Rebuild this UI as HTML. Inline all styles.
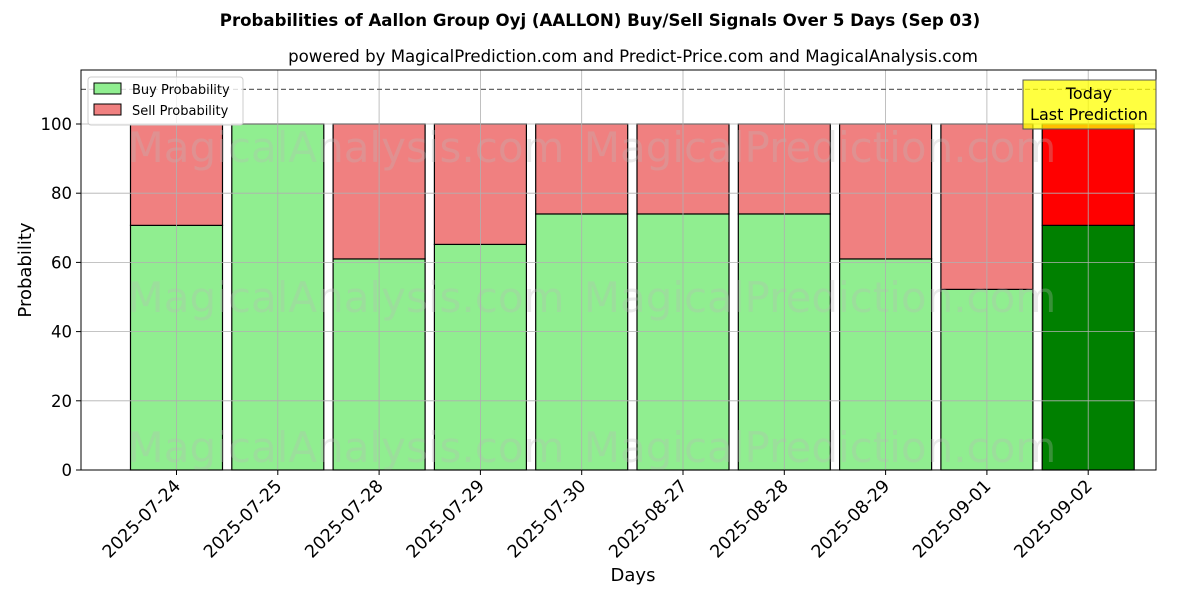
<!DOCTYPE html>
<html><head><meta charset="utf-8"><style>
html,body{margin:0;padding:0;background:#fff;}
svg{display:block;font-family:"DejaVu Sans","Liberation Sans",sans-serif;}
</style></head><body>
<svg id="chart" width="1200" height="600" viewBox="0 0 1200 600">
<text x="600" y="26" text-anchor="middle" font-size="16.6" font-weight="bold">Probabilities of Aallon Group Oyj (AALLON) Buy/Sell Signals Over 5 Days (Sep 03)</text>
<text x="633" y="62" text-anchor="middle" font-size="16.6">powered by MagicalPrediction.com and Predict-Price.com and MagicalAnalysis.com</text>
<g id="bars"></g>
<g id="wm" font-size="42" fill="#bbb" fill-opacity="0.3">
<text x="346" y="162" text-anchor="middle">MagicalAnalysis.com</text>
<text x="820" y="162" text-anchor="middle">MagicalPrediction.com</text>
<text x="346" y="312" text-anchor="middle">MagicalAnalysis.com</text>
<text x="820" y="312" text-anchor="middle">MagicalPrediction.com</text>
<text x="346" y="462" text-anchor="middle">MagicalAnalysis.com</text>
<text x="820" y="462" text-anchor="middle">MagicalPrediction.com</text>
</g>
<g id="grid"></g>
<line x1="81" x2="1156" y1="89.4" y2="89.4" stroke="#666" stroke-dasharray="5,3" stroke-width="1.2"/>
<rect x="81" y="70" width="1075" height="400" fill="none" stroke="#000" stroke-width="1"/>
<g id="axes"></g>
<text x="31" y="270" text-anchor="middle" font-size="18" transform="rotate(-90 31 270)">Probability</text>
<text x="633" y="581" text-anchor="middle" font-size="18">Days</text>
<g>
<rect x="88" y="77" width="155" height="48" rx="3" fill="#fff" fill-opacity="0.8" stroke="#ccc"/>
<rect x="94" y="83" width="27" height="11" fill="#90ee90" stroke="#000"/>
<text x="132" y="94" font-size="13">Buy Probability</text>
<rect x="94" y="104" width="27" height="11" fill="#f08080" stroke="#000"/>
<text x="132" y="115" font-size="13">Sell Probability</text>
</g>
<g>
<rect x="1023" y="80" width="133" height="49" fill="#ffff00" fill-opacity="0.75" stroke="#555"/>
<text x="1089" y="99" text-anchor="middle" font-size="16">Today</text>
<text x="1089" y="120" text-anchor="middle" font-size="16">Last Prediction</text>
</g>
</svg>
<script>
const categories=["2025-07-24","2025-07-25","2025-07-28","2025-07-29","2025-07-30","2025-08-27","2025-08-28","2025-08-29","2025-09-01","2025-09-02"];
const buyValues=[70.7,100,61,65.2,74,74,74,61,52.2,70.7];
const yTicks=[0,20,40,60,80,100];
const NS="http://www.w3.org/2000/svg";
const x0=176.5,step=101.3,bw=92;
const X=i=>x0+i*step;
const Y=v=>470-v*3.46;
function mk(tag,attrs,parent){const e=document.createElementNS(NS,tag);for(const k in attrs)e.setAttribute(k,attrs[k]);parent.appendChild(e);return e;}
const bars=document.getElementById('bars'),grid=document.getElementById('grid'),axes=document.getElementById('axes');
categories.forEach((c,i)=>{
  const last=i===categories.length-1;
  const b=buyValues[i],s=100-b;
  const r1=mk('rect',{x:X(i)-bw/2,y:Y(b),width:bw,height:Y(0)-Y(b),fill:last?'#008000':'#90ee90',stroke:'#000','stroke-width':1.2},bars);
  
  
  if(s>0){
    const r2=mk('rect',{x:X(i)-bw/2,y:Y(100),width:bw,height:Y(b)-Y(100),fill:last?'#ff0000':'#f08080',stroke:'#000','stroke-width':1.2},bars);
    
    
  }
  const g=mk('line',{x1:X(i),x2:X(i),y1:70,y2:470,stroke:'#b0b0b0','stroke-width':0.8},grid);
  
  
  const t=mk('line',{x1:X(i),x2:X(i),y1:470,y2:475,stroke:'#000'},axes);
  
  
  const l=mk('text',{x:X(i)+5,y:487,'text-anchor':'end','font-size':17.5,transform:`rotate(-45 ${X(i)+5} 487)`},axes);
  l.textContent=c;
  
  
});
yTicks.forEach(v=>{
  const g=mk('line',{x1:81,x2:1156,y1:Y(v),y2:Y(v),stroke:'#b0b0b0','stroke-width':0.8},grid);
  
  
  const t=mk('line',{x1:76,x2:81,y1:Y(v),y2:Y(v),stroke:'#000'},axes);
  
  
  const l=mk('text',{x:72,y:Y(v)+6,'text-anchor':'end','font-size':16.5},axes);
  l.textContent=v;
  
  
});
</script>
</body></html>
